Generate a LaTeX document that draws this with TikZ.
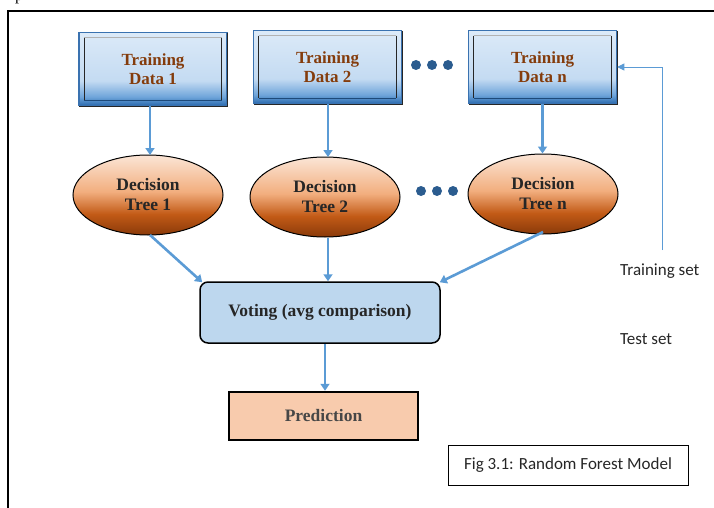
\documentclass[tikz,border=0pt]{standalone}
\usepackage{fontspec}
\setmainfont{Liberation Serif}
\newfontfamily\calibri{Carlito}
\usetikzlibrary{shapes.geometric,calc,arrows.meta}
\definecolor{arrowblue}{HTML}{5B9BD5}
\definecolor{tdt}{HTML}{DCEAF8}
\definecolor{tdl}{HTML}{C4DBF2}
\definecolor{tdm}{HTML}{6FA5DA}
\definecolor{tdb}{HTML}{2A6AAE}
\definecolor{tdborder}{HTML}{3A72B0}
\definecolor{tdtext}{HTML}{843C0C}
\definecolor{dtt}{HTML}{FBE5D6}
\definecolor{dtl}{HTML}{F2AE7E}
\definecolor{dtm}{HTML}{C25A16}
\definecolor{dtb}{HTML}{8A3A0A}
\definecolor{votefill}{HTML}{BDD7EE}
\definecolor{predfill}{HTML}{F8CBAD}
\definecolor{darktext}{HTML}{262626}
\definecolor{dotblue}{HTML}{2B5C8F}
\pgfdeclareverticalshading{tdshade}{100bp}{color(0bp)=(tdb); color(25bp)=(tdb); color(31bp)=(tdm); color(42bp)=(tdl); color(75bp)=(tdt); color(100bp)=(tdt)}
\pgfdeclareverticalshading{dtshade}{100bp}{color(0bp)=(dtb); color(25bp)=(dtb); color(38bp)=(dtm); color(52bp)=(dtl); color(75bp)=(dtt); color(100bp)=(dtt)}
\tikzset{
  tdbox/.style={rectangle, minimum width=148, minimum height=73, inner sep=0pt,
    shading=tdshade, draw=tdborder, line width=1.5pt, text=tdtext, align=center,
    font=\bfseries\fontsize{17}{19}\selectfont},
  darkedge/.style={draw=black!85, line width=1pt},
  lightedge/.style={draw=black!30, line width=1pt},
  dtree/.style={ellipse, minimum width=150, minimum height=80, inner sep=0pt,
    shading=dtshade, draw=black, line width=1pt, text=darktext, align=center,
    font=\bfseries\fontsize{17.5}{20}\selectfont},
  arr/.style={draw=arrowblue, line width=2.6pt, -{Triangle[width=9pt,length=7pt]}},
  thinarr/.style={draw=arrowblue, line width=0.8pt, -{Triangle[width=7pt,length=7pt]}},
  dotc/.style={circle, fill=dotblue, minimum size=10pt, inner sep=0pt},
  lbl/.style={font=\calibri\fontsize{17}{19}\selectfont, text=darktext, anchor=west, inner sep=0pt}
}
\begin{document}
\begin{tikzpicture}[x=1pt,y=-1pt]
\useasboundingbox (0,0) rectangle (714,508);
% page frame
\draw[line width=1.5pt] (8,520) -- (8,11) -- (730,11);
\node[anchor=base west, inner sep=0pt, font=\fontsize{16}{18}\selectfont] (pfrag) at (15,1) {p};
% training data boxes
\node[tdbox] (t1) at (153,69) {Training\\Data 1};
\node[tdbox] (t2) at (327.5,67) {Training\\Data 2};
\node[tdbox] (tn) at (542.5,67) {Training\\Data n};
\foreach \n in {t1,t2,tn}{
  % outer dark edges (right, bottom)
  \draw[darkedge] ($(\n.north east)+(0,1)$) -- ($(\n.south east)$) -- ($(\n.south west)+(1,0)$);
  % inner frame
  \draw[lightedge] ($(\n.north west)+(6,6)$) -- ($(\n.north east)+(-6,6)$);
  \draw[darkedge] ($(\n.north west)+(6,6)$) -- ($(\n.south west)+(6,-6)$);
  \draw[darkedge] ($(\n.north east)+(-6,6)$) -- ($(\n.south east)+(-6,-6)$);
  \draw[draw=tdb!70!black, line width=1pt] ($(\n.south west)+(6,-6)$) -- ($(\n.south east)+(-6,-6)$);
}
% dots
\node[dotc] (d1) at (416,65) {};
\node[dotc] (d2) at (432,65) {};
\node[dotc] (d3) at (448,65) {};
% decision trees
\node[dtree] (e1) at (148,195) {Decision\\Tree 1};
\node[dtree] (e2) at (325,197) {Decision\\Tree 2};
\node[dtree] (en) at (543,194) {Decision\\Tree n};
\node[dotc] (d4) at (421,191) {};
\node[dotc] (d5) at (437,191) {};
\node[dotc] (d6) at (453,191) {};
% voting and prediction
\node[rectangle, rounded corners=8pt, draw=black, line width=1.5pt, fill=votefill,
  minimum width=240, minimum height=61, inner sep=0pt, text=darktext,
  font=\bfseries\fontsize{17.5}{20}\selectfont] (v) at (320,312.5) {Voting (avg comparison)};
\node[rectangle, draw=black, line width=2.5pt, fill=predfill,
  minimum width=189, minimum height=48, inner sep=0pt, text=darktext!85,
  font=\bfseries\fontsize{17.5}{20}\selectfont] (p) at (323.5,416) {Prediction};
% arrows
\draw[arr] (t1.south -| 150,0) -- (150,155);
\draw[arr] (t2.south -| 328,0) -- (328,157);
\draw[arr] (tn.south) -- (tn.south |- en.north);
\draw[arr] (150,235) -- ($(v.north west)+(3,1)$);
\draw[arr] (e2.south -| 328,0) -- (v.north -| 328,0);
\draw[arr] (543,232) -- ($(v.north east)+(-1,1)$);
\draw[arr] (v.south -| 325,0) -- (p.north -| 325,0);
% training set loop
\coordinate (ts) at (662,250);
\draw[thinarr] (ts) |- (tn.east);
\node[lbl] (tsl) at (620,271) {Training set};
\node[lbl] (tel) at (620,339) {Test set};
% caption box
\node[rectangle, draw=black, line width=1pt, minimum width=240, minimum height=40,
  inner sep=0pt, font=\calibri\fontsize{17}{19}\selectfont, text=darktext] (fig) at (568,465) {Fig 3.1: Random Forest Model};
\end{tikzpicture}
\end{document}
